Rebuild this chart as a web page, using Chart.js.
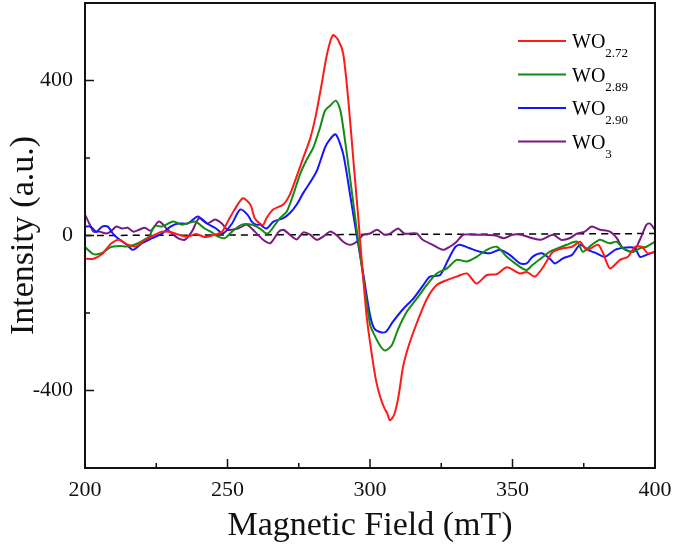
<!DOCTYPE html>
<html>
<head>
<meta charset="utf-8">
<script src="https://cdn.jsdelivr.net/npm/chart.js@4/dist/chart.umd.min.js"></script>
<style>
  body { margin: 0; background: #fff; }
  #wrap { width: 675px; height: 550px; }
</style>
</head>
<body>
<div id="wrap"><canvas id="epr"></canvas></div>
<script>
// EPR spectra
const fieldRed = [200,203,206,209,212,215,218,221,224,227,230,233,236,239,242,245,248,250,252.5,255.4,258,259.6,261.4,262.6,263.7,266,269.6,271.9,274.3,276.6,279,281,283,285,287,288.8,290.6,292.4,294.2,295.9,297.5,299,300.5,302,303.5,305,306,307,308.5,310,311.7,314,317,320,323.4,327,330.4,334,337.4,341,344.5,348,352.6,355,357.9,360.8,364.2,367.7,370.9,373.7,376,380,381.8,384.2,387.7,390.5,393,395.4,397.5,400];
const intRed = [-60,-60,-48,-22,-11,-24,-28,-12,0,10,9,2,-3,4,-4,1,9,35,67,96,80,44,31,28,45,67,80,106,153,201,250,310,389,471,517,505,469,348,192,45,-100,-220,-300,-370,-415,-445,-458,-477,-462,-415,-335,-275,-215,-163,-128,-115,-106,-98,-124,-102,-100,-82,-98,-94,-106,-81,-42,-33,-29,-16,-37,-24,-46,-85,-63,-55,-29,-29,-46,-42];

const fieldGreen = [200,203,206,209,212,215,218,221,222.5,224.5,227,231,234,238.6,242,244.5,246.7,249,251.6,255,258.6,261.4,263.7,264.9,268.4,270.8,273.1,275.4,277.8,280.1,282.5,284.2,286,288,289.5,290.6,293,295.3,297.7,300,301.1,303.5,305.3,307.6,309.9,312.8,316.4,319.9,323.4,327,330.4,334,337.4,341,344.5,348,352.6,355,357,360,363,366,369,372.6,374.7,377.8,380.7,384,386.6,388.8,392.3,394.7,397,400];
const intGreen = [-30,-48,-45,-30,-27,-28,-22,-10,-3,25,23,36,28,36,18,8,-3,-7,10,28,28,18,5,10,45,62,106,157,196,227,279,322,335,348,325,279,149,18,-112,-230,-250,-284,-297,-284,-241,-198,-163,-128,-98,-85,-63,-67,-55,-37,-29,-55,-81,-89,-76,-59,-42,-33,-24,-16,-42,-24,-11,-20,-16,-33,-42,-33,-29,-16];

const fieldBlue = [200,202,204,206,208,210,212,214.7,216.8,220,223.5,227,230,232.6,236,239.6,242.8,246,248.4,251.6,254.4,257,258.5,260,261.4,263.7,266.1,269.6,271.9,274.3,276.6,278.9,281.3,284.2,286,288,290.6,293,295.3,297.7,300,301.5,303.5,305.5,308,311.7,315.2,318.7,321,324.6,327.4,330,331.6,335,338.6,342,345.6,349,352.6,355,357,360.3,363,364.9,367.7,370.9,373.7,376.5,379.5,382.5,386,390,393,394.7,397,400];
const intBlue = [23,23,10,23,23,3,-10,-24,-37,-20,-7,5,23,31,31,49,31,18,5,31,67,54,36,28,28,18,36,45,58,80,110,136,166,227,249,261,210,106,2,-102,-205,-240,-249,-249,-223,-189,-163,-128,-106,-102,-63,-29,-24,-33,-42,-46,-37,-50,-72,-72,-55,-46,-59,-72,-59,-50,-24,-37,-46,-55,-37,-31,-33,-55,-50,-42];

const fieldPurple = [200,201.5,203,205,207.5,209,211,213,215,217,219,221,223,226,229,232.6,235,237.5,240,243,245.6,248,250,253.7,256.8,259.6,262.5,265,268,269.6,271.9,274.3,276.6,279,281.3,283.7,286,288.4,290.6,293,295.3,297.7,300,302.5,305,307,309.9,312,316.4,318.5,322,325.6,328,330.4,332.7,336,340,344,347,350,353,357,360,364.2,367,370,372.6,375.4,377.8,380.7,384.2,386.6,388.8,392.3,394.7,397,398.2,400];
const intPurple = [54,31,10,10,5,10,23,18,20,10,15,20,12,36,15,-7,-11,10,44,31,41,31,15,18,28,10,-11,-20,10,15,2,-10,8,2,-11,-2,10,0,-16,-24,-16,2,5,15,2,5,18,5,5,-11,-24,-37,-29,-16,2,2,2,0,-7,2,2,-7,-11,2,-11,-7,5,10,23,15,10,-7,-33,-42,-11,28,31,15];

const baseField = [200, 400];
const baseInt = [0, 5];

const seriesNames = ["WO", "WO", "WO", "WO"];
const seriesSubs = ["2.72", "2.89", "2.90", "3"];
const seriesColors = ["#ff1a1a", "#138a13", "#1414ff", "#7a1a80"];

const xMajor = [200, 250, 300, 350, 400];
const xMinor = [225, 275, 325, 375];
const yMajor = [-400, 0, 400];
const yMinor = [-200, 200];

const serif = "'Liberation Serif', 'Times New Roman', serif";

function pts(xs, ys) {
  return xs.map((x, i) => ({ x: x, y: ys[i] }));
}

// ticks pointing inward + frame
const frame = {
  id: "frame",
  afterDraw(chart) {
    const ctx = chart.ctx;
    const a = chart.chartArea;
    const xs = chart.scales.x, ys = chart.scales.y;
    ctx.save();
    ctx.strokeStyle = "#111";
    ctx.lineWidth = 1.5;
    ctx.beginPath();
    xMajor.forEach(v => { const p = xs.getPixelForValue(v); ctx.moveTo(p, a.bottom); ctx.lineTo(p, a.bottom - 9); });
    xMinor.forEach(v => { const p = xs.getPixelForValue(v); ctx.moveTo(p, a.bottom); ctx.lineTo(p, a.bottom - 5); });
    yMajor.forEach(v => { const p = ys.getPixelForValue(v); ctx.moveTo(a.left, p); ctx.lineTo(a.left + 9, p); });
    yMinor.forEach(v => { const p = ys.getPixelForValue(v); ctx.moveTo(a.left, p); ctx.lineTo(a.left + 5, p); });
    ctx.stroke();
    ctx.lineWidth = 2;
    ctx.strokeRect(a.left, a.top, a.right - a.left, a.bottom - a.top);
    ctx.restore();
  }
};

// legend with subscripts
const subLegend = {
  id: "subLegend",
  afterDraw(chart) {
    const ctx = chart.ctx;
    ctx.save();
    seriesNames.forEach((name, i) => {
      const y = 41 + i * 33.5;
      ctx.strokeStyle = seriesColors[i];
      ctx.lineWidth = 2.2;
      ctx.beginPath();
      ctx.moveTo(518, y);
      ctx.lineTo(566, y);
      ctx.stroke();
      ctx.fillStyle = "#000";
      ctx.textBaseline = "alphabetic";
      ctx.font = "20px " + serif;
      ctx.fillText(name, 572, y + 7);
      const w = ctx.measureText(name).width;
      ctx.font = "13px " + serif;
      ctx.fillText(seriesSubs[i], 572 + w, y + 16);
    });
    ctx.restore();
  }
};

new Chart(document.getElementById("epr"), {
  type: "line",
  data: {
    datasets: [
      { data: pts(fieldRed, intRed), borderColor: seriesColors[0], borderWidth: 2 },
      { data: pts(fieldGreen, intGreen), borderColor: seriesColors[1], borderWidth: 2 },
      { data: pts(fieldBlue, intBlue), borderColor: seriesColors[2], borderWidth: 2 },
      { data: pts(fieldPurple, intPurple), borderColor: seriesColors[3], borderWidth: 2 },
      { data: pts(baseField, baseInt), borderColor: "#000", borderWidth: 1.5, borderDash: [7, 5] }
    ]
  },
  options: {
    responsive: true,
    maintainAspectRatio: false,
    animation: false,
    layout: { padding: { left: 0, right: 20, top: 3, bottom: 0 } },
    elements: { point: { radius: 0 }, line: { tension: 0.25 } },
    plugins: { legend: { display: false }, tooltip: { enabled: false } },
    scales: {
      x: {
        type: "linear",
        min: 200, max: 400,
        afterBuildTicks: s => { s.ticks = xMajor.map(v => ({ value: v })); },
        afterFit: s => { s.height = 82; s.paddingLeft = 0; s.paddingRight = 0; },
        grid: { display: false, drawTicks: false },
        border: { display: false },
        ticks: { color: "#111", padding: 9, font: { family: serif, size: 22 } },
        title: { display: true, text: "Magnetic Field (mT)", color: "#111", padding: { top: 9 }, font: { family: serif, size: 34 } }
      },
      y: {
        min: -600, max: 600,
        afterBuildTicks: s => { s.ticks = yMajor.map(v => ({ value: v })); },
        afterFit: s => { s.width = 85; s.paddingTop = 0; s.paddingBottom = 0; },
        grid: { display: false, drawTicks: false },
        border: { display: false },
        ticks: { color: "#111", padding: 12, font: { family: serif, size: 22 } },
        title: { display: true, text: "Intensity (a.u.)", color: "#111", padding: { bottom: 0 }, font: { family: serif, size: 34 } }
      }
    }
  },
  plugins: [frame, subLegend]
});
</script>
</body>
</html>
